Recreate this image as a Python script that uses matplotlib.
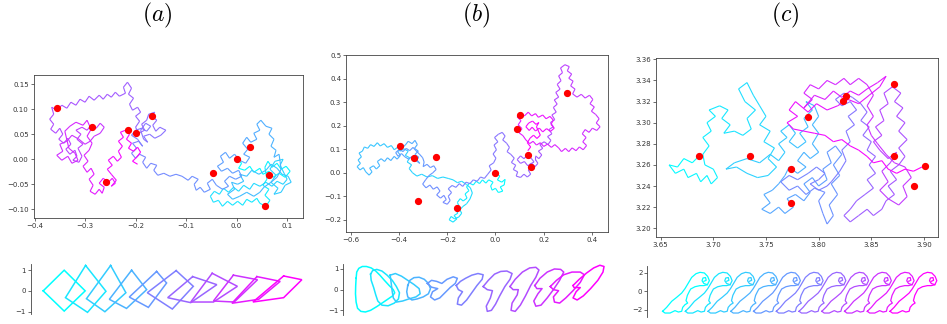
import numpy as np
import matplotlib
matplotlib.use('Agg')
import matplotlib.pyplot as plt
from matplotlib.collections import LineCollection

plt.rcParams['mathtext.fontset'] = 'cm'
plt.rcParams['font.size'] = 5

# ---------------- data: panel (a) random walk (x, y) ----------------
walk_a = [
    (0.000, 0.000), (0.010, -0.008), (0.004, -0.018), (0.016, -0.022), (0.026, -0.014), (0.034, -0.026), (0.046, -0.018),
    (0.052, -0.030), (0.064, -0.024), (0.072, -0.036), (0.084, -0.028), (0.096, -0.036), (0.106, -0.024), (0.098, -0.014),
    (0.088, -0.020), (0.080, -0.008), (0.070, -0.016), (0.062, -0.004), (0.056, -0.016), (0.060, -0.040), (0.052, -0.052),
    (0.064, -0.060), (0.056, -0.072), (0.066, -0.082), (0.058, -0.094), (0.046, -0.088), (0.040, -0.078), (0.030, -0.086),
    (0.020, -0.080), (0.012, -0.092), (0.002, -0.084), (-0.008, -0.092), (-0.018, -0.084), (-0.028, -0.094), (-0.036, -0.082),
    (-0.046, -0.086), (-0.052, -0.074), (-0.044, -0.064), (-0.034, -0.070), (-0.026, -0.058), (-0.016, -0.066),
    (-0.006, -0.056), (0.004, -0.064), (0.014, -0.052), (0.026, -0.060), (0.034, -0.048), (0.046, -0.054), (0.058, -0.046),
    (0.070, -0.054), (0.080, -0.044), (0.092, -0.050), (0.100, -0.040), (0.094, -0.028), (0.086, -0.012), (0.092, 0.000),
    (0.076, -0.004), (0.066, -0.020), (0.078, -0.032), (0.068, -0.046), (0.082, -0.058), (0.074, -0.070), (0.088, -0.066),
    (0.096, -0.052), (0.108, -0.046), (0.102, -0.034), (0.090, -0.030), (0.080, -0.018), (0.068, -0.010), (0.058, -0.022),
    (0.044, -0.030), (0.030, -0.022), (0.020, -0.034), (0.006, -0.030), (0.014, -0.044), (0.002, -0.050), (-0.010, -0.046),
    (-0.004, -0.060), (-0.018, -0.070), (-0.008, -0.080), (0.006, -0.074), (0.020, -0.066), (0.034, -0.074), (0.046, -0.066),
    (0.054, -0.056), (0.068, -0.046), (0.080, -0.036), (0.088, -0.020), (0.086, -0.004), (0.084, 0.010),
    (0.074, 0.004), (0.078, 0.018), (0.068, 0.026), (0.074, 0.040), (0.064, 0.050), (0.070, 0.062), (0.058, 0.066),
    (0.048, 0.078), (0.040, 0.070), (0.046, 0.058), (0.034, 0.052), (0.040, 0.040), (0.028, 0.034), (0.020, 0.044),
    (0.012, 0.032), (0.022, 0.020), (0.014, 0.010), (0.026, 0.004), (0.018, -0.008), (0.006, -0.002), (-0.004, 0.010),
    (-0.014, 0.002), (-0.022, 0.014), (-0.032, 0.006), (-0.026, -0.006), (-0.038, -0.014), (-0.030, -0.024), (-0.018, -0.018),
    (-0.008, -0.028), (0.004, -0.022), (0.010, -0.034), (-0.002, -0.040), (-0.014, -0.034), (-0.024, -0.044),
    (-0.016, -0.054), (-0.028, -0.060), (-0.040, -0.052), (-0.048, -0.040), (-0.058, -0.048), (-0.052, -0.060),
    (-0.064, -0.066), (-0.072, -0.056), (-0.080, -0.062), (-0.084, -0.050), (-0.076, -0.040), (-0.088, -0.034),
    (-0.096, -0.042),
    (-0.108, -0.034), (-0.120, -0.030), (-0.132, -0.034), (-0.144, -0.028), (-0.156, -0.032), (-0.164, -0.022),
    (-0.158, -0.012), (-0.170, -0.008), (-0.178, -0.018), (-0.186, -0.006), (-0.180, 0.004), (-0.192, 0.010),
    (-0.200, 0.002), (-0.208, 0.012), (-0.198, 0.022), (-0.206, 0.032), (-0.194, 0.036), (-0.186, 0.026),
    (-0.196, 0.040), (-0.208, 0.048), (-0.200, 0.058), (-0.188, 0.062), (-0.178, 0.056), (-0.170, 0.066),
    (-0.180, 0.072), (-0.190, 0.058), (-0.184, 0.040), (-0.176, 0.034),
    (-0.184, 0.046), (-0.172, 0.050), (-0.162, 0.042), (-0.150, 0.048), (-0.140, 0.058), (-0.152, 0.064), (-0.160, 0.056),
    (-0.166, 0.068), (-0.158, 0.078), (-0.168, 0.086), (-0.162, 0.094), (-0.174, 0.090), (-0.178, 0.078), (-0.188, 0.070),
    (-0.182, 0.058), (-0.194, 0.052), (-0.200, 0.064), (-0.192, 0.076), (-0.200, 0.086), (-0.190, 0.094), (-0.196, 0.104),
    (-0.206, 0.098),
    (-0.212, 0.110), (-0.204, 0.122), (-0.214, 0.130), (-0.208, 0.142), (-0.216, 0.154), (-0.224, 0.144), (-0.220, 0.132),
    (-0.232, 0.126), (-0.240, 0.134), (-0.248, 0.124), (-0.256, 0.130), (-0.264, 0.120), (-0.272, 0.128), (-0.282, 0.118),
    (-0.292, 0.126), (-0.300, 0.114), (-0.310, 0.120), (-0.318, 0.108), (-0.328, 0.114), (-0.336, 0.102), (-0.346, 0.108),
    (-0.356, 0.098), (-0.366, 0.104), (-0.362, 0.090), (-0.370, 0.080), (-0.362, 0.070), (-0.368, 0.060), (-0.358, 0.052),
    (-0.350, 0.062), (-0.344, 0.050), (-0.352, 0.040), (-0.342, 0.032), (-0.334, 0.042), (-0.328, 0.030), (-0.338, 0.020),
    (-0.330, 0.010), (-0.320, 0.018), (-0.316, 0.006), (-0.324, -0.002), (-0.312, -0.006), (-0.306, 0.006), (-0.314, 0.022),
    (-0.304, 0.030), (-0.316, 0.040), (-0.308, 0.050), (-0.318, 0.058), (-0.306, 0.064), (-0.296, 0.058), (-0.288, 0.068),
    (-0.278, 0.062), (-0.270, 0.072), (-0.262, 0.064), (-0.270, 0.052), (-0.282, 0.046), (-0.290, 0.036), (-0.300, 0.030),
    (-0.312, 0.040), (-0.326, 0.048), (-0.336, 0.036), (-0.350, 0.030), (-0.344, 0.016), (-0.356, 0.008), (-0.346, -0.002),
    (-0.334, 0.006), (-0.326, -0.008), (-0.314, -0.002), (-0.320, 0.012), (-0.332, 0.022), (-0.340, 0.056), (-0.330, 0.066),
    (-0.318, 0.074), (-0.304, 0.068), (-0.296, 0.078), (-0.288, 0.060), (-0.296, 0.046), (-0.286, 0.032),
    (-0.292, 0.018), (-0.302, 0.008), (-0.294, -0.004), (-0.304, -0.014), (-0.296, -0.026), (-0.288, -0.018),
    (-0.282, -0.030), (-0.292, -0.040), (-0.284, -0.052), (-0.290, -0.064), (-0.280, -0.070), (-0.272, -0.060),
    (-0.266, -0.068), (-0.262, -0.056), (-0.272, -0.048), (-0.264, -0.038),
    (-0.254, -0.046), (-0.246, -0.038), (-0.240, -0.048), (-0.248, -0.054), (-0.238, -0.042), (-0.248, -0.030),
    (-0.256, -0.020), (-0.246, -0.012), (-0.254, -0.002), (-0.244, 0.006), (-0.236, -0.004), (-0.228, 0.004),
    (-0.234, 0.016), (-0.226, 0.026), (-0.234, 0.036), (-0.224, 0.044), (-0.230, 0.054), (-0.220, 0.058), (-0.212, 0.050),
    (-0.218, 0.040), (-0.208, 0.032), (-0.214, 0.022), (-0.204, 0.016), (-0.196, 0.024), (-0.190, 0.014), (-0.198, 0.004),
    (-0.206, -0.004), (-0.196, -0.010)]
dots_a_x = [0.0, 0.0256, -0.047, 0.064, 0.057, -0.167, -0.2, -0.215, -0.287, -0.355, -0.259]
dots_a_y = [0.0, 0.024, -0.027, -0.032, -0.093, 0.087, 0.053, 0.058, 0.065, 0.103, -0.045]

# ---------------- data: panel (b) random walk (x, y) ----------------
walk_b = [
    (0.000, 0.000), (0.018, -0.014), (0.008, -0.030), (0.026, -0.040), (0.040, -0.028), (0.036, -0.052), (0.020, -0.060),
    (0.030, -0.078), (0.012, -0.084), (0.000, -0.066), (-0.014, -0.074), (-0.020, -0.056), (-0.010, -0.040),
    (-0.028, -0.030), (-0.040, -0.044), (-0.054, -0.030), (-0.066, -0.046), (-0.080, -0.036), (-0.092, -0.052),
    (-0.108, -0.044), (-0.120, -0.060), (-0.110, -0.076), (-0.126, -0.090), (-0.118, -0.108), (-0.134, -0.120),
    (-0.146, -0.110), (-0.158, -0.126), (-0.150, -0.144), (-0.166, -0.156), (-0.156, -0.172), (-0.172, -0.182),
    (-0.160, -0.196), (-0.176, -0.210), (-0.192, -0.200), (-0.184, -0.186), (-0.170, -0.196), (-0.152, -0.188),
    (-0.140, -0.172), (-0.148, -0.158), (-0.136, -0.144), (-0.120, -0.132), (-0.106, -0.112), (-0.096, -0.086),
    (-0.104, -0.064), (-0.120, -0.050), (-0.140, -0.036), (-0.158, -0.042), (-0.176, -0.030), (-0.196, -0.024),
    (-0.218, -0.018), (-0.240, -0.024), (-0.262, -0.012), (-0.284, -0.018), (-0.306, -0.006), (-0.326, -0.014),
    (-0.344, 0.000), (-0.358, 0.018), (-0.348, 0.034), (-0.366, 0.046), (-0.356, 0.064), (-0.374, 0.074), (-0.362, 0.092),
    (-0.380, 0.102), (-0.396, 0.092), (-0.404, 0.110), (-0.420, 0.098), (-0.432, 0.116), (-0.448, 0.108), (-0.462, 0.124),
    (-0.478, 0.114), (-0.490, 0.128), (-0.504, 0.112), (-0.518, 0.120), (-0.530, 0.104), (-0.544, 0.110), (-0.552, 0.092),
    (-0.566, 0.084), (-0.556, 0.068), (-0.570, 0.054), (-0.560, 0.040), (-0.574, 0.026), (-0.562, 0.012), (-0.548, 0.022),
    (-0.538, 0.004), (-0.524, -0.010), (-0.512, 0.004), (-0.522, 0.020), (-0.506, 0.030), (-0.494, 0.016), (-0.480, 0.030),
    (-0.490, 0.048), (-0.474, 0.060), (-0.460, 0.048), (-0.448, 0.064), (-0.434, 0.052), (-0.420, 0.070), (-0.408, 0.058),
    (-0.394, 0.074), (-0.406, 0.090), (-0.390, 0.104), (-0.374, 0.118), (-0.362, 0.134), (-0.346, 0.124), (-0.334, 0.138),
    (-0.324, 0.120), (-0.336, 0.104), (-0.320, 0.092), (-0.334, 0.078), (-0.318, 0.066), (-0.330, 0.052), (-0.314, 0.040),
    (-0.330, 0.060), (-0.346, 0.070), (-0.360, 0.058), (-0.376, 0.068), (-0.390, 0.082), (-0.404, 0.070), (-0.414, 0.086),
    (-0.398, 0.100), (-0.384, 0.090), (-0.370, 0.104), (-0.356, 0.094), (-0.342, 0.108), (-0.330, 0.094), (-0.316, 0.080),
    (-0.302, 0.064), (-0.296, 0.046),
    (-0.300, 0.026), (-0.284, 0.036), (-0.270, 0.022), (-0.256, 0.030), (-0.246, 0.014), (-0.260, 0.000), (-0.276, -0.012),
    (-0.290, -0.030), (-0.302, -0.048), (-0.288, -0.064), (-0.272, -0.052), (-0.258, -0.070), (-0.242, -0.060),
    (-0.230, -0.078), (-0.244, -0.094), (-0.228, -0.108), (-0.214, -0.096), (-0.204, -0.114), (-0.218, -0.126),
    (-0.200, -0.134), (-0.188, -0.118), (-0.196, -0.100), (-0.182, -0.084), (-0.196, -0.068), (-0.180, -0.054),
    (-0.164, -0.062), (-0.150, -0.046), (-0.136, -0.058), (-0.122, -0.040), (-0.106, -0.046), (-0.092, -0.030),
    (-0.076, -0.036), (-0.062, -0.018), (-0.046, -0.024),
    (-0.032, -0.006), (-0.018, 0.012), (-0.026, 0.030), (-0.008, 0.042), (0.002, 0.062), (-0.010, 0.080), (0.004, 0.098),
    (-0.006, 0.118), (0.010, 0.132), (-0.004, 0.150), (0.012, 0.164), (0.028, 0.172), (0.040, 0.156), (0.030, 0.140),
    (0.046, 0.126), (0.058, 0.108), (0.048, 0.090), (0.064, 0.078),
    (0.078, 0.062), (0.066, 0.044), (0.084, 0.032), (0.074, 0.014), (0.092, 0.004), (0.086, -0.014), (0.104, -0.020),
    (0.118, -0.006), (0.132, -0.018), (0.146, -0.006), (0.136, 0.012), (0.154, 0.020), (0.142, 0.036), (0.160, 0.046),
    (0.148, 0.062), (0.132, 0.074), (0.118, 0.060), (0.104, 0.072), (0.090, 0.056), (0.104, 0.040), (0.120, 0.048),
    (0.134, 0.030), (0.150, 0.040), (0.164, 0.026), (0.176, 0.040), (0.166, 0.056),
    (0.166, 0.072), (0.180, 0.060), (0.192, 0.076), (0.178, 0.092), (0.196, 0.104), (0.184, 0.120),
    (0.202, 0.132), (0.218, 0.120), (0.230, 0.138), (0.216, 0.154), (0.234, 0.166), (0.222, 0.184), (0.240, 0.196),
    (0.228, 0.214),
    (0.246, 0.226), (0.234, 0.246), (0.252, 0.258), (0.240, 0.278), (0.256, 0.292), (0.244, 0.310), (0.262, 0.322),
    (0.250, 0.342), (0.268, 0.356), (0.256, 0.376), (0.272, 0.392), (0.262, 0.412), (0.278, 0.426), (0.270, 0.446),
    (0.288, 0.460), (0.306, 0.452), (0.298, 0.434), (0.316, 0.420), (0.304, 0.402), (0.322, 0.390), (0.312, 0.370),
    (0.330, 0.356), (0.320, 0.336), (0.338, 0.322), (0.356, 0.334), (0.372, 0.318), (0.390, 0.330), (0.404, 0.312),
    (0.392, 0.294), (0.410, 0.280), (0.398, 0.262), (0.416, 0.248), (0.430, 0.230), (0.418, 0.212), (0.434, 0.196),
    (0.420, 0.180), (0.402, 0.190), (0.388, 0.172), (0.372, 0.184), (0.360, 0.166), (0.376, 0.150), (0.362, 0.132),
    (0.378, 0.116), (0.364, 0.098), (0.348, 0.110), (0.334, 0.094), (0.318, 0.106), (0.304, 0.090), (0.290, 0.104),
    (0.274, 0.090), (0.262, 0.106),
    (0.246, 0.120), (0.232, 0.108), (0.216, 0.122), (0.200, 0.112), (0.186, 0.128), (0.170, 0.118), (0.156, 0.134),
    (0.142, 0.124), (0.126, 0.140), (0.114, 0.158), (0.098, 0.170), (0.110, 0.188), (0.094, 0.204), (0.106, 0.222),
    (0.090, 0.238), (0.104, 0.254), (0.120, 0.242), (0.136, 0.258), (0.150, 0.242), (0.166, 0.252), (0.178, 0.236),
    (0.196, 0.246), (0.210, 0.230), (0.226, 0.240), (0.240, 0.224), (0.230, 0.206), (0.244, 0.190), (0.228, 0.176),
    (0.212, 0.188), (0.196, 0.174), (0.182, 0.190), (0.166, 0.178), (0.152, 0.194), (0.140, 0.180), (0.126, 0.196),
    (0.138, 0.212), (0.154, 0.220), (0.168, 0.206), (0.180, 0.214), (0.170, 0.196), (0.186, 0.160), (0.172, 0.146),
    (0.158, 0.160), (0.144, 0.148), (0.132, 0.128), (0.146, 0.110), (0.134, 0.094)]
dots_b_x = [0.0, -0.396, -0.339, -0.248, -0.321, -0.159, 0.102, 0.089, 0.134, 0.147, 0.297]
dots_b_y = [0.0, 0.116, 0.062, 0.067, -0.121, -0.149, 0.244, 0.187, 0.075, 0.023, 0.340]

# ---------------- data: panel (c) random walk (x, y) ----------------
walk_c = [
    (3.686, 3.268), (3.680, 3.262), (3.672, 3.266), (3.666, 3.258), (3.658, 3.260), (3.664, 3.252), (3.672, 3.256),
    (3.676, 3.248), (3.684, 3.252), (3.688, 3.244), (3.694, 3.250), (3.698, 3.242), (3.704, 3.248), (3.700, 3.256),
    (3.692, 3.260), (3.690, 3.270), (3.696, 3.278), (3.690, 3.286), (3.698, 3.292), (3.694, 3.300), (3.702, 3.306),
    (3.696, 3.312), (3.706, 3.316), (3.714, 3.312), (3.708, 3.304), (3.716, 3.298), (3.710, 3.290), (3.720, 3.292),
    (3.728, 3.288), (3.736, 3.294), (3.732, 3.304), (3.740, 3.312), (3.730, 3.320), (3.724, 3.332), (3.732, 3.338),
    (3.738, 3.326), (3.744, 3.316), (3.750, 3.306), (3.744, 3.298), (3.754, 3.292), (3.748, 3.282), (3.758, 3.276),
    (3.752, 3.266), (3.760, 3.258), (3.752, 3.250), (3.742, 3.248), (3.732, 3.252), (3.722, 3.258), (3.712, 3.256),
    (3.720, 3.262), (3.732, 3.266), (3.744, 3.262),
    (3.754, 3.270), (3.762, 3.264), (3.768, 3.272), (3.762, 3.280), (3.770, 3.286), (3.764, 3.292), (3.772, 3.298),
    (3.778, 3.290), (3.772, 3.282), (3.780, 3.276), (3.788, 3.282), (3.782, 3.290), (3.790, 3.296), (3.786, 3.304),
    (3.794, 3.312), (3.788, 3.320), (3.796, 3.316), (3.800, 3.306), (3.794, 3.298), (3.800, 3.290), (3.794, 3.280),
    (3.800, 3.272), (3.792, 3.266), (3.786, 3.272), (3.780, 3.264), (3.788, 3.258), (3.780, 3.252), (3.772, 3.258),
    (3.768, 3.250), (3.762, 3.242), (3.756, 3.236), (3.748, 3.232), (3.754, 3.224), (3.746, 3.218), (3.754, 3.214),
    (3.762, 3.220), (3.768, 3.214), (3.776, 3.220), (3.770, 3.228), (3.778, 3.232), (3.786, 3.226), (3.792, 3.234),
    (3.786, 3.242), (3.794, 3.248), (3.800, 3.240), (3.808, 3.246), (3.804, 3.256), (3.812, 3.262), (3.808, 3.272),
    (3.816, 3.278), (3.822, 3.270), (3.814, 3.260), (3.820, 3.250), (3.812, 3.242), (3.818, 3.232), (3.810, 3.222),
    (3.814, 3.212), (3.808, 3.204), (3.804, 3.214), (3.800, 3.226), (3.806, 3.234),
    (3.796, 3.238), (3.788, 3.232), (3.780, 3.240), (3.772, 3.236), (3.764, 3.244), (3.772, 3.250), (3.780, 3.246),
    (3.790, 3.252), (3.798, 3.258), (3.806, 3.252), (3.800, 3.246), (3.792, 3.242), (3.800, 3.236), (3.808, 3.240),
    (3.812, 3.244), (3.820, 3.254), (3.826, 3.264), (3.822, 3.274), (3.830, 3.282), (3.826, 3.292), (3.834, 3.298),
    (3.828, 3.306), (3.836, 3.312), (3.830, 3.320), (3.822, 3.316), (3.816, 3.322), (3.824, 3.328), (3.832, 3.324),
    (3.840, 3.318), (3.846, 3.310), (3.840, 3.302), (3.848, 3.296), (3.842, 3.288), (3.850, 3.282), (3.846, 3.274),
    (3.854, 3.268), (3.848, 3.260),
    (3.854, 3.252), (3.846, 3.246), (3.852, 3.238), (3.844, 3.232), (3.836, 3.226), (3.830, 3.218), (3.824, 3.212),
    (3.830, 3.206), (3.838, 3.212), (3.846, 3.218), (3.852, 3.212), (3.860, 3.218), (3.864, 3.226), (3.872, 3.232),
    (3.866, 3.240), (3.874, 3.246), (3.868, 3.254), (3.876, 3.260), (3.882, 3.268), (3.876, 3.276), (3.884, 3.284),
    (3.876, 3.292), (3.882, 3.300), (3.874, 3.306), (3.880, 3.314), (3.872, 3.320), (3.878, 3.328), (3.870, 3.334),
    (3.862, 3.328), (3.866, 3.318), (3.858, 3.312), (3.862, 3.302), (3.854, 3.296), (3.860, 3.288), (3.852, 3.282),
    (3.858, 3.274), (3.866, 3.266), (3.874, 3.272), (3.868, 3.262), (3.860, 3.254), (3.866, 3.244), (3.858, 3.236),
    (3.866, 3.228), (3.876, 3.222), (3.884, 3.230), (3.880, 3.240), (3.888, 3.248), (3.882, 3.258), (3.872, 3.262),
    (3.864, 3.270), (3.856, 3.280),
    (3.850, 3.288), (3.846, 3.298), (3.852, 3.306), (3.846, 3.316), (3.852, 3.326), (3.846, 3.336), (3.838, 3.342),
    (3.830, 3.336), (3.824, 3.342), (3.816, 3.336), (3.808, 3.340), (3.800, 3.332), (3.792, 3.336), (3.786, 3.328),
    (3.794, 3.322), (3.786, 3.314), (3.796, 3.326), (3.806, 3.322), (3.814, 3.330), (3.822, 3.324), (3.830, 3.330),
    (3.838, 3.326), (3.846, 3.332), (3.856, 3.338), (3.864, 3.344), (3.858, 3.334), (3.848, 3.326), (3.838, 3.318),
    (3.828, 3.322), (3.818, 3.316), (3.808, 3.312), (3.798, 3.318), (3.790, 3.310),
    (3.778, 3.320), (3.772, 3.312), (3.780, 3.306), (3.770, 3.300), (3.776, 3.294),
    (3.786, 3.292), (3.796, 3.290), (3.806, 3.288), (3.814, 3.282), (3.822, 3.284), (3.830, 3.278), (3.838, 3.274),
    (3.846, 3.268), (3.852, 3.262), (3.860, 3.264), (3.866, 3.256), (3.874, 3.252), (3.882, 3.256), (3.890, 3.254),
    (3.898, 3.258)]
dots_c_x = [3.686, 3.735, 3.774, 3.774, 3.790, 3.823, 3.826, 3.872, 3.872, 3.891, 3.901]
dots_c_y = [3.268, 3.268, 3.256, 3.224, 3.305, 3.321, 3.325, 3.337, 3.268, 3.240, 3.259]

# ---------------- data: bottom row shapes ----------------
quads_x = [[-0.99, 0.0, 0.99, 0.0], [1.01, 1.97, 1.10, 0.06], [2.19, 2.91, 1.92, 1.05], [3.18, 3.89, 2.94, 2.13],
           [4.36, 4.83, 3.97, 3.07], [5.28, 6.09, 5.10, 3.92], [6.06, 7.20, 5.97, 4.88], [6.98, 8.17, 7.04, 5.97],
           [7.98, 9.12, 8.02, 7.04], [9.09, 10.19, 9.17, 7.91], [10.35, 11.21, 10.35, 8.90]]
quads_y = [[0.0, 1.0, 0.0, -0.98], [1.23, -0.02, -1.04, -0.33], [1.23, -0.09, -1.01, -0.38], [1.0, 0.06, -0.85, -0.41],
           [0.94, 0.38, -0.80, -0.30], [0.98, 0.22, -0.88, -0.09], [0.69, 0.30, -0.57, -0.33], [0.85, 0.22, -0.54, -0.54],
           [0.76, 0.54, -0.54, -0.49], [0.69, 0.46, -0.41, -0.60], [0.72, 0.54, -0.33, -0.54]]

blobs = [
    [(0.05, 0.55), (0.08, 0.85), (0.18, 1.03), (0.35, 1.12), (0.55, 1.12), (0.78, 1.05), (1.0, 0.9), (1.2, 0.7),
     (1.42, 0.45), (1.65, 0.2), (1.85, 0.0), (1.92, -0.15), (1.82, -0.3), (1.6, -0.45), (1.35, -0.62), (1.05, -0.82),
     (0.75, -1.0), (0.5, -1.08), (0.28, -1.05), (0.12, -0.9), (0.05, -0.6), (0.02, -0.2), (0.03, 0.2)],
    [(0.75, 0.75), (0.85, 0.92), (1.05, 0.98), (1.3, 0.9), (1.55, 0.7), (1.8, 0.45), (2.0, 0.15), (2.15, -0.15),
     (2.1, -0.45), (1.9, -0.65), (1.6, -0.78), (1.3, -0.75), (1.1, -0.55), (1.0, -0.25), (0.9, 0.1), (0.78, 0.45)],
    [(1.7, 0.7), (1.95, 0.78), (2.25, 0.65), (2.55, 0.45), (2.85, 0.25), (3.1, 0.05), (3.15, -0.2), (2.95, -0.35),
     (2.6, -0.45), (2.3, -0.55), (2.0, -0.6), (1.85, -0.4), (1.8, -0.1), (1.75, 0.3)],
    [(2.55, 0.2), (2.65, 0.45), (2.85, 0.58), (3.1, 0.6), (3.35, 0.5), (3.55, 0.3), (3.65, 0.05), (3.55, -0.2),
     (3.3, -0.35), (3.0, -0.45), (2.75, -0.5), (2.55, -0.35), (2.5, -0.1)],
    [(3.5, 0.3), (3.7, 0.45), (3.95, 0.4), (4.2, 0.3), (4.45, 0.5), (4.75, 0.62), (4.95, 0.55), (4.85, 0.3),
     (4.6, 0.1), (4.35, -0.15), (4.1, -0.4), (3.85, -0.5), (3.65, -0.35), (3.75, -0.1), (4.0, 0.05), (3.7, 0.12)],
    [(4.9, 0.2), (5.1, 0.4), (5.35, 0.55), (5.65, 0.7), (5.95, 0.78), (6.2, 0.72), (6.15, 0.5), (5.9, 0.2),
     (5.65, -0.15), (5.4, -0.5), (5.15, -0.75), (4.95, -0.7), (5.0, -0.4), (5.2, -0.1), (5.0, 0.0)],
    [(6.2, 0.15), (6.45, 0.45), (6.75, 0.75), (7.05, 0.88), (7.35, 0.9), (7.6, 0.78), (7.5, 0.5), (7.25, 0.15),
     (7.0, -0.3), (6.8, -0.7), (6.6, -1.0), (6.4, -1.05), (6.35, -0.8), (6.55, -0.4), (6.65, -0.05), (6.4, 0.0)],
    [(7.5, 0.15), (7.75, 0.5), (8.1, 0.85), (8.45, 1.05), (8.75, 1.08), (8.9, 0.95), (8.75, 0.6), (8.5, 0.2),
     (8.25, -0.3), (8.0, -0.75), (7.75, -1.05), (7.55, -1.0), (7.6, -0.65), (7.85, -0.25), (7.9, 0.0), (7.65, 0.0)],
    [(8.7, 0.2), (8.95, 0.55), (9.3, 0.85), (9.65, 1.0), (9.95, 0.98), (10.1, 0.85), (9.9, 0.45), (9.6, 0.0),
     (9.3, -0.4), (9.0, -0.75), (8.75, -0.8), (8.65, -0.55), (8.85, -0.2), (9.05, 0.05), (8.8, 0.05)],
    [(9.45, 0.15), (9.75, 0.45), (10.1, 0.72), (10.5, 0.85), (10.9, 0.85), (11.1, 0.72), (10.9, 0.35), (10.55, -0.05),
     (10.2, -0.4), (9.9, -0.65), (9.65, -0.6), (9.6, -0.35), (9.85, -0.05), (9.6, 0.0)],
    [(10.55, 0.2), (10.85, 0.5), (11.2, 0.8), (11.55, 1.05), (11.85, 1.18), (12.05, 1.12), (12.0, 0.85), (11.75, 0.45),
     (11.4, 0.05), (11.05, -0.3), (10.75, -0.5), (10.55, -0.4), (10.7, -0.1), (10.9, 0.1), (10.6, 0.1)]]

creature_x = [0.1, 0.54, 1.09, 1.63, 2.18, 2.54, 2.91, 3.27, 3.74, 4.18, 4.65, 5.01, 5.2, 4.98, 4.6, 4.18, 3.63, 3.16,
              3.02, 2.8, 2.65, 2.83, 2.54, 2.29, 2.18, 1.82, 1.45, 0.91, 0.36, 0.1]
creature_y = [-2.18, -1.75, -1.09, -0.66, -0.19, 0.29, 0.91, 1.52, 1.92, 2.07, 2.0, 1.63, 1.16, 0.72, 0.62, 0.62, 0.5,
              0.25, 0.0, -0.44, -1.02, -1.28, -1.46, -1.75, -2.18, -2.26, -2.11, -2.37, -2.37, -2.18]
curl_x = [4.98, 4.6, 4.4, 4.5, 4.78, 4.85, 4.62]
curl_y = [0.72, 0.85, 1.15, 1.45, 1.5, 1.2, 1.1]
creature_shift = [0.0, 2.48, 4.96, 7.44, 9.92, 12.4, 14.88, 17.36, 19.84, 22.32, 24.8]

titles = ['$(a)$', '$(b)$', '$(c)$']

# ---------------- figure ----------------
W, H = 947, 324
fig = plt.figure(figsize=(W / 100, H / 100), dpi=100)


def px_axes(x0, y0, x1, y1):
    return fig.add_axes([x0 / W, 1 - y1 / H, (x1 - x0) / W, (y1 - y0) / H])


cmap = plt.get_cmap('cool')


def draw_walk(ax, walk, dx, dy):
    pts = np.array(walk)
    segs = np.stack([pts[:-1], pts[1:]], axis=1)
    lc = LineCollection(segs, cmap=cmap, linewidths=0.8)
    lc.set_array(np.linspace(0, 1, len(segs)))
    ax.add_collection(lc)
    ax.plot(dx, dy, 'o', color='red', ms=4.2, zorder=5)
    for s in ax.spines.values():
        s.set_linewidth(0.6)
        s.set_color('#444444')
    ax.tick_params(length=2, width=0.5, pad=1.5, labelsize=5, colors='#333333')


axa = px_axes(33.5, 74.7, 303.3, 218.3)
draw_walk(axa, walk_a, dots_a_x, dots_a_y)
axa.set_xlim(-0.402, 0.132)
axa.set_ylim(-0.118, 0.169)
axa.set_xticks([-0.4, -0.3, -0.2, -0.1, 0.0, 0.1])
axa.set_yticks([-0.10, -0.05, 0.0, 0.05, 0.10, 0.15])

axb = px_axes(346, 55.3, 608.3, 232)
draw_walk(axb, walk_b, dots_b_x, dots_b_y)
axb.set_xlim(-0.62, 0.468)
axb.set_ylim(-0.252, 0.5)
axb.set_xticks([-0.6, -0.4, -0.2, 0.0, 0.2, 0.4])
axb.set_yticks([-0.2, -0.1, 0.0, 0.1, 0.2, 0.3, 0.4, 0.5])

axc = px_axes(655.7, 58.3, 938.3, 237)
draw_walk(axc, walk_c, dots_c_x, dots_c_y)
axc.set_xlim(3.6453, 3.9136)
axc.set_ylim(3.1917, 3.361)
axc.set_xticks([3.65, 3.70, 3.75, 3.80, 3.85, 3.90])
axc.set_yticks([3.20, 3.22, 3.24, 3.26, 3.28, 3.30, 3.32, 3.34, 3.36])


def style_bottom(ax):
    for k in ['top', 'right', 'bottom']:
        ax.spines[k].set_visible(False)
    ax.spines['left'].set_linewidth(0.6)
    ax.spines['left'].set_color('#444444')
    ax.set_xticks([])
    ax.tick_params(length=2, width=0.5, pad=1.5, labelsize=5, colors='#333333')


n = len(quads_x)
bxa = px_axes(30.7, 264, 315, 314)
for i in range(n):
    xs = quads_x[i] + [quads_x[i][0]]
    ys = quads_y[i] + [quads_y[i][0]]
    bxa.plot(xs, ys, color=cmap(i / (n - 1)), lw=1.1, solid_joinstyle='miter')
bxa.set_xlim(-1.58, 11.83)
bxa.set_ylim(-1.12, 1.3)
bxa.set_yticks([-1, 0, 1])
style_bottom(bxa)

bxb = px_axes(343.3, 264, 616, 315.3)
nb = len(blobs)
for i, blob in enumerate(blobs):
    pts = blob + [blob[0]]
    bxb.plot([p[0] for p in pts], [p[1] for p in pts], color=cmap(i / (nb - 1)), lw=1.1,
             solid_joinstyle='round')
bxb.set_xlim(-0.57, 12.63)
bxb.set_ylim(-1.24, 1.24)
bxb.set_yticks([-1, 0, 1])
style_bottom(bxb)

bxc = px_axes(647.3, 266, 946, 316.7)
m = len(creature_shift)
for i, sft in enumerate(creature_shift):
    c = cmap(i / (m - 1))
    bxc.plot([v + sft for v in creature_x], creature_y, color=c, lw=0.9, solid_joinstyle='round')
    bxc.plot([v + sft for v in curl_x], curl_y, color=c, lw=0.9, solid_joinstyle='round')
bxc.set_xlim(-1.57, 31.0)
bxc.set_ylim(-2.77, 2.76)
bxc.set_yticks([-2, 0, 2])
style_bottom(bxc)

for t, xc in zip(titles, [157, 476, 785]):
    fig.text(xc / W, 1 - 15 / H, t, ha='center', va='center', fontsize=17)

fig.savefig('out.png', dpi=100, facecolor='white')
